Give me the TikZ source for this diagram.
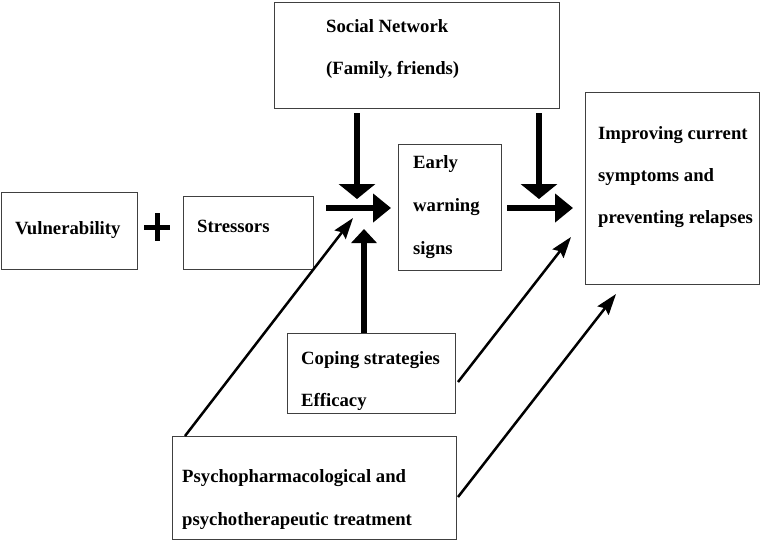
\documentclass[tikz,border=0pt]{standalone}
\usepackage{fontspec}
\setmainfont{Liberation Serif}
\usetikzlibrary{arrows.meta,calc}
\begin{document}
\begin{tikzpicture}[x=1pt,y=-1pt,
  box/.style={draw=black!75,line width=1pt,inner sep=0pt,anchor=north west},
  txt/.style={anchor=base west,inner sep=0pt,font=\fontsize{18.7}{20}\selectfont\bfseries},
  bigdown/.style={line width=6pt,-{Triangle[length=15pt,width=36pt]}},
  bigright/.style={line width=6pt,-{Triangle[length=18pt,width=28pt]}},
  bigup/.style={line width=6pt,-{Triangle[length=14pt,width=25pt]}},
  thinarrow/.style={line width=2.5pt,-{Stealth[length=21pt,width=14pt,inset=3pt]}},
  plusline/.style={line width=5pt}]
\useasboundingbox (0,0) rectangle (760,541);

% boxes
\node[box,minimum width=285pt,minimum height=106pt] (soc) at (274,2) {};
\node[box,minimum width=136pt,minimum height=77pt] (vul) at (1,192) {};
\node[box,minimum width=130pt,minimum height=73pt] (str) at (183,196) {};
\node[box,minimum width=103pt,minimum height=126pt] (ews) at (398,144) {};
\node[box,minimum width=174pt,minimum height=192pt] (imp) at (585,92) {};
\node[box,minimum width=168pt,minimum height=80pt] (cope) at (287,333) {};
\node[box,minimum width=284pt,minimum height=103pt] (psy) at (172,436) {};

% texts
\node[txt] (socA) at (326,32) {Social Network};
\node[txt] (socB) at (326,74) {(Family, friends)};
\node[txt] (vulA) at (15,234) {Vulnerability};
\node[txt] (strA) at (197,232) {Stressors};
\node[txt] (ewsA) at (413,168) {Early};
\node[txt] (ewsB) at (413,211) {warning};
\node[txt] (ewsC) at (413,254) {signs};
\node[txt] (impA) at (598,139) {Improving current};
\node[txt] (impB) at (598,181) {symptoms and};
\node[txt] (impC) at (598,223) {preventing relapses};
\node[txt] (copeA) at (301,364) {Coping strategies};
\node[txt] (copeB) at (301,406) {Efficacy};
\node[txt] (psyA) at (182,482) {Psychopharmacological and};
\node[txt] (psyB) at (182,525) {psychotherapeutic treatment};

% plus sign
\coordinate (plusc) at (157,227);
\draw[plusline] ($(plusc)+(-13,0)$) -- ($(plusc)+(13,0)$);
\draw[plusline] ($(plusc)+(0,-14)$) -- ($(plusc)+(0,14)$);

% thick arrows
\coordinate (j1) at (391,208);
\coordinate (j2) at (573,208);
\draw[bigdown] ($(soc.south west)+(83,4)$) -- (357,199);
\draw[bigdown] ($(soc.south west)+(265,4)$) -- (539,199);
\draw[bigright] (326,208) -- (j1);
\draw[bigright] (507,208) -- (j2);
\draw[bigup] ($(cope.north west)+(77,0)$) -- (364,229);

% thin arrows
\draw[thinarrow] ($(psy.north west)+(13,0)$) -- (353,218);
\draw[thinarrow] ($(cope.north east)+(2,49)$) -- (571,237);
\draw[thinarrow] ($(psy.north east)+(1,61)$) -- (616,294);
\end{tikzpicture}
\end{document}
